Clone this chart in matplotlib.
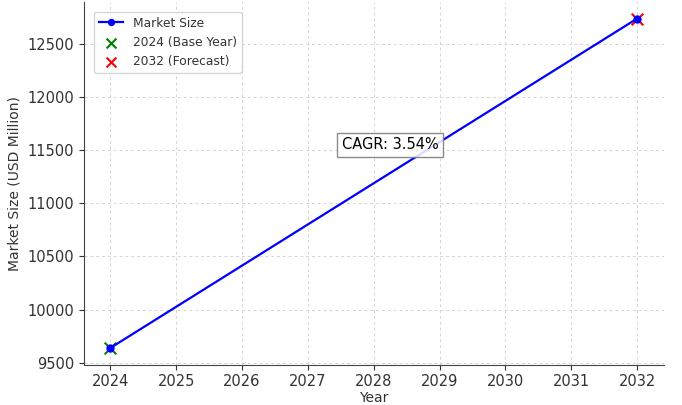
import matplotlib.pyplot as plt

# Data
years = [2024, 2032]
market_size = [9640, 12735]
base_year = 2024
base_value = 9640
forecast_year = 2032
forecast_value = 12735
cagr_label = "CAGR: 3.54%"
year_ticks = list(range(2024, 2033))

plt.rcParams['font.family'] = 'DejaVu Sans'
txt = '#333333'

fig, ax = plt.subplots(figsize=(6.82, 4.05), dpi=100)
fig.subplots_adjust(left=0.123, right=0.973, top=0.995, bottom=0.1)

ax.plot(years, market_size, marker='o', color='blue', linewidth=1.6,
        markersize=5, label='Market Size', zorder=3)
ax.scatter([base_year], [base_value], marker='x', color='green', s=70,
           label=f'{base_year} (Base Year)', zorder=2)
ax.scatter([forecast_year], [forecast_value], marker='x', color='red', s=70,
           label=f'{forecast_year} (Forecast)', zorder=2)

ax.text(2028.25, 11547, cagr_label, ha='center', va='center', fontsize=10.5,
        color='black',
        bbox=dict(facecolor='white', edgecolor='#777777', alpha=0.85, boxstyle='square,pad=0.3'))

ax.set_xticks(year_ticks)
ax.set_xlabel('Year', fontsize=10, color=txt, labelpad=1)
ax.set_ylabel('Market Size (USD Million)', fontsize=10, color=txt)
ax.tick_params(labelsize=10.5, colors=txt)
ax.grid(True, linestyle=(0, (3, 3)), color='#d5d5d5', linewidth=0.7)

for s in ['top', 'right']:
    ax.spines[s].set_visible(False)
for s in ['left', 'bottom']:
    ax.spines[s].set_color('#444444')

ax.legend(loc='upper left', fontsize=8.8, labelcolor=txt, framealpha=0.8,
          markerscale=0.85, borderaxespad=0.8)

fig.savefig('out.png', dpi=100)
